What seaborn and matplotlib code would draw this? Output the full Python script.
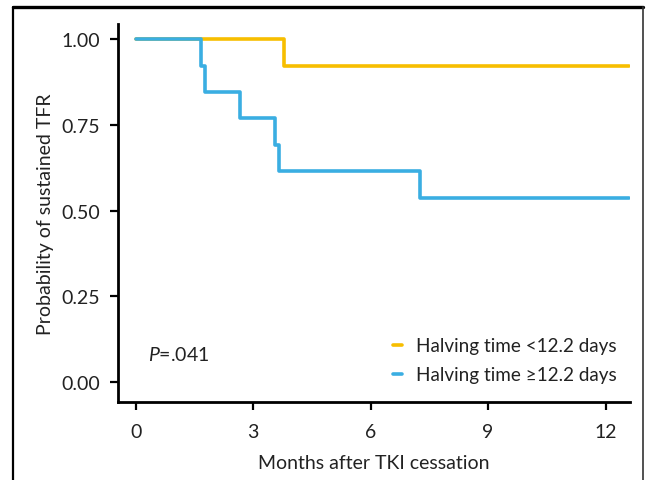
import matplotlib

matplotlib.use("Agg")
import matplotlib.pyplot as plt
from matplotlib.lines import Line2D
import pandas as pd
import seaborn as sns

# Kaplan-Meier step data
GROUPS = ["Halving time <12.2 days", "Halving time \u226512.2 days"]
COLORS = ["#F7BE00", "#3AAEE2"]

short_times = [0, 3.80, 12.6]
short_surv = [1.0, 0.923, 0.923]

long_times = [0, 1.67, 1.76, 2.66, 3.57, 3.67, 7.26, 12.6]
long_surv = [1.0, 0.923, 0.846, 0.769, 0.692, 0.615, 0.538, 0.538]

X_TICKS = [0, 3, 6, 9, 12]
Y_TICKS = [0.00, 0.25, 0.50, 0.75, 1.00]

df = pd.concat([
    pd.DataFrame({"t": short_times, "s": short_surv, "group": GROUPS[0]}),
    pd.DataFrame({"t": long_times, "s": long_surv, "group": GROUPS[1]}),
], ignore_index=True)

sns.set_theme(style="ticks")
plt.rcParams["font.family"] = ["Lato", "DejaVu Sans"]
plt.rcParams["mathtext.fontset"] = "custom"
plt.rcParams["mathtext.it"] = "Lato:italic"
plt.rcParams["mathtext.rm"] = "Lato"

fig = plt.figure(figsize=(6.46, 4.81), dpi=100)
ax = fig.add_axes([0.1827, 0.162, 0.7923, 0.786])

sns.lineplot(data=df, x="t", y="s", hue="group", hue_order=GROUPS,
             palette=COLORS, drawstyle="steps-post", sort=False,
             estimator=None, linewidth=2.6, ax=ax, legend=False)

ax.set_xlim(-0.45, 12.62)
ax.set_ylim(-0.058, 1.044)
ax.set_xticks(X_TICKS)
ax.set_yticks(Y_TICKS)
ax.set_yticklabels([f"{v:.2f}" for v in Y_TICKS])
ax.tick_params(axis="both", labelsize=14, length=6, width=1.6,
               color="black", labelcolor="#222222", pad=7)
ax.tick_params(axis="x", pad=9)

for side in ["left", "bottom"]:
    ax.spines[side].set_linewidth(2.0)
    ax.spines[side].set_color("black")
sns.despine(ax=ax)

ax.set_xlabel("Months after TKI cessation", fontsize=14,
              color="#222222", labelpad=10)
ax.set_ylabel("Probability of sustained TFR", fontsize=14,
              color="#222222", labelpad=5)

handles = [Line2D([], [], color=c, linewidth=2.6) for c in COLORS]
ax.legend(handles, GROUPS, loc="lower right", bbox_to_anchor=(1.008, 0.005),
          frameon=False, fontsize=13.6, handlelength=0.5, handletextpad=0.75,
          labelspacing=0.62, labelcolor="#222222")

ax.text(0.059, 0.127, r"$P$=.041", transform=ax.transAxes, fontsize=14,
        color="#222222", va="center", ha="left")

# outer frame around the panel
fig.add_artist(Line2D([13 / 646, 13 / 646], [0, 1 - 8 / 481], transform=fig.transFigure,
                      color="black", linewidth=1.6))
fig.add_artist(Line2D([13 / 646, 643 / 646], [1 - 8 / 481, 1 - 8 / 481],
                      transform=fig.transFigure, color="black", linewidth=2.4))
fig.add_artist(Line2D([643 / 646, 643 / 646], [0, 1 - 8 / 481], transform=fig.transFigure,
                      color="#333333", linewidth=1.2))

fig.savefig("out.png", dpi=100)
